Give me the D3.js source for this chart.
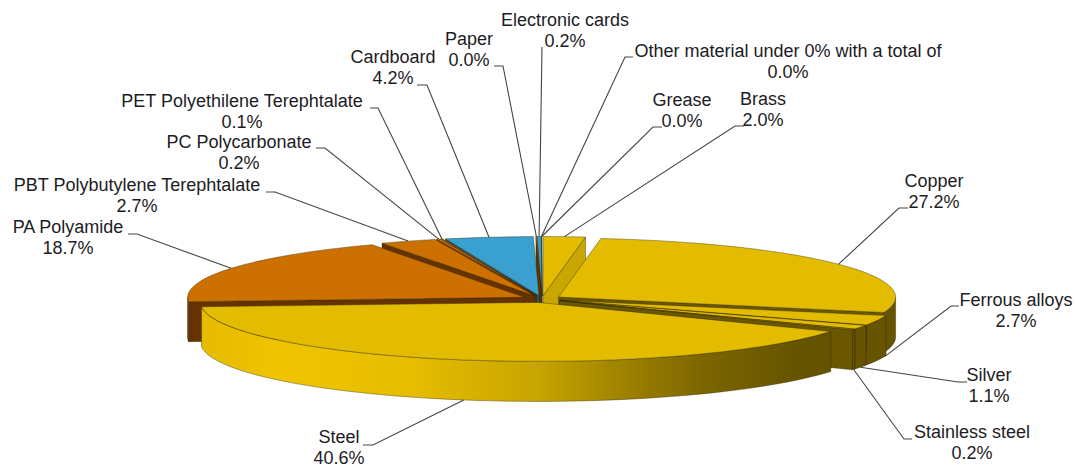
<!DOCTYPE html>
<html>
<head>
<meta charset="utf-8">
<script src="https://cdn.jsdelivr.net/npm/d3@7"></script>
<style>
    body { margin: 0; background: #fff; }
    text { font-family: "Liberation Sans", Arial, sans-serif; font-size: 18px; fill: #1c1c24; text-anchor: middle; }
</style>
</head>
<body>
<div id="pie"></div>
<script>
// clockwise from 12 o'clock, as in the picture
var materials = ["Brass", "Copper", "Ferrous alloys", "Silver", "Stainless steel", "Steel", "PA Polyamide",
    "PBT Polybutylene Terephtalate", "PC Polycarbonate", "PET Polyethilene Terephtalate", "Cardboard",
    "Paper", "Electronic cards", "Other material under 0% with a total of", "Grease"];
var shares = [2.0, 27.2, 2.7, 1.1, 0.2, 40.6, 18.7, 2.7, 0.2, 0.1, 4.2, 0.04, 0.2, 0.01, 0.02];
var groups = ["gold", "gold", "gold", "gold", "gold", "gold", "orange", "orange", "orange", "orange", "blue",
    "orange", "blue", "gold", "gold"];

var topColours = { gold: "#e3bc00", orange: "#cc7000", blue: "#39a0d0" };
var wallColours = { gold: "url(#goldWall)", orange: "#663300", blue: "#1d5a78" };

// label centre, first baseline, elbow of the leader, label end of the leader
var labelSpots = [
    [763, 105, 735, 126, 744, 126],
    [934, 187, 899, 208, 908, 208],
    [1016, 306, 951, 306, 959, 306],
    [989, 381, 958, 382, 967, 382],
    [972, 438, 904, 439, 912, 439],
    [339, 443, 373, 445, 363, 445],
    [68, 233, 137, 234, 128, 234],
    [137, 191, 275, 192, 266, 192],
    [239, 148, 325, 148, 316, 148],
    [242, 107, 378, 108, 370, 108],
    [393, 63, 427, 85, 417, 85],
    [469, 45, 503, 66, 494, 66],
    [565, 26, 542, 47, 542, 47],
    [788, 57, 625, 57, 633, 57],
    [682, 106, 653, 127, 662, 127]
];

var width = 1076, height = 467;
var cx = 542, cy = 299;        // centre of the unexploded pie
var rx = 337, ry = 59;
var depth = 40, explode = 20;
var lineGap = 20.5;

var svg = d3.select("#pie").append("svg")
    .attr("width", width)
    .attr("height", height)
    .style("display", "block");

var grad = svg.append("defs").append("linearGradient")
    .attr("id", "goldWall")
    .attr("gradientUnits", "userSpaceOnUse")
    .attr("x1", 200).attr("x2", 900).attr("y1", 0).attr("y2", 0);
[[0, "#e6bb00"], [0.12, "#f0c400"], [0.3, "#e6bd00"], [0.48, "#c8a500"], [0.62, "#9a7e00"],
    [0.72, "#7b6500"], [0.86, "#655300"], [1, "#665400"]].forEach(function (s) {
    grad.append("stop").attr("offset", s[0]).attr("stop-color", s[1]);
});

var pie = d3.pie().sort(null);
var slices = pie(shares).map(function (d, i) {
    var mid = (d.startAngle + d.endAngle) / 2;
    return {
        i: i,
        a0: d.startAngle,
        a1: d.endAngle,
        mid: mid,
        ox: cx + explode * Math.sin(mid),
        oy: cy - explode * (ry / rx) * Math.cos(mid)
    };
});

function rim(s, a, drop) {
    return [s.ox + rx * Math.sin(a), s.oy - ry * Math.cos(a) + (drop || 0)];
}

var line = d3.line();
var arc = d3.arc().innerRadius(0).outerRadius(rx);
var radialGold = d3.scaleLinear()
    .domain([0.2, 1.7])
    .range(["#c9a700", "#6b5700"])
    .clamp(true);

function radialFill(s, a) {
    if (groups[s.i] === "gold") return radialGold(a);
    return wallColours[groups[s.i]];
}

function addFace(g, points, fill) {
    g.append("path")
        .attr("d", line(points) + "Z")
        .attr("fill", fill)
        .attr("stroke", "#2e2600")
        .attr("stroke-opacity", 0.65)
        .attr("stroke-width", 0.6)
        .attr("stroke-linejoin", "round");
}

// back slices first, steel ends up on top
var order = slices.slice().sort(function (a, b) { return Math.cos(b.mid) - Math.cos(a.mid); });

order.forEach(function (s) {
    var g = svg.append("g");

    // radial wall that faces the viewer
    var wallAngle = null;
    if (Math.sin(s.a1) > 0) wallAngle = s.a1;
    else if (Math.sin(s.a0) < 0) wallAngle = s.a0;
    if (wallAngle !== null) {
        var r0 = rim(s, wallAngle, 0), r1 = rim(s, wallAngle, depth);
        addFace(g, [[s.ox, s.oy], r0, r1, [s.ox, s.oy + depth]], radialFill(s, wallAngle));
    }

    // outer wall, only the front half of the ellipse
    var from = Math.max(s.a0, Math.PI / 2), to = Math.min(s.a1, Math.PI * 3 / 2);
    if (to > from) {
        var steps = d3.range(0, 61).map(function (k) { return from + (to - from) * k / 60; });
        var upper = steps.map(function (a) { return rim(s, a, 0); });
        var lower = steps.slice().reverse().map(function (a) { return rim(s, a, depth); });
        addFace(g, upper.concat(lower), wallColours[groups[s.i]]);
    }

    // top
    g.append("path")
        .attr("d", arc({ startAngle: s.a0, endAngle: s.a1 }))
        .attr("transform", "translate(" + s.ox + "," + s.oy + ") scale(1," + (ry / rx) + ")")
        .attr("fill", topColours[groups[s.i]])
        .attr("stroke", "#2e2600")
        .attr("stroke-opacity", 0.65)
        .attr("stroke-width", 0.6)
        .attr("vector-effect", "non-scaling-stroke");
});

// leaders: from the label to the rim at the middle of the slice
var fmt = d3.format(".1f");
slices.forEach(function (s) {
    var spot = labelSpots[s.i];
    // Ferrous alloys points at the edge of its slice
    var a = materials[s.i] === "Ferrous alloys" ? s.a0 + (s.a1 - s.a0) * 0.05 : s.mid;
    var tip = rim(s, a, Math.cos(a) < 0 ? depth : 0);
    svg.append("path")
        .attr("d", line([[spot[4], spot[5]], [spot[2], spot[3]], tip]))
        .attr("fill", "none")
        .attr("stroke", "#444")
        .attr("stroke-width", 1.1);
    svg.append("text")
        .attr("x", spot[0])
        .attr("y", spot[1])
        .text(materials[s.i]);
    svg.append("text")
        .attr("x", spot[0])
        .attr("y", spot[1] + lineGap)
        .text(fmt(shares[s.i]) + "%");
});
</script>
</body>
</html>
